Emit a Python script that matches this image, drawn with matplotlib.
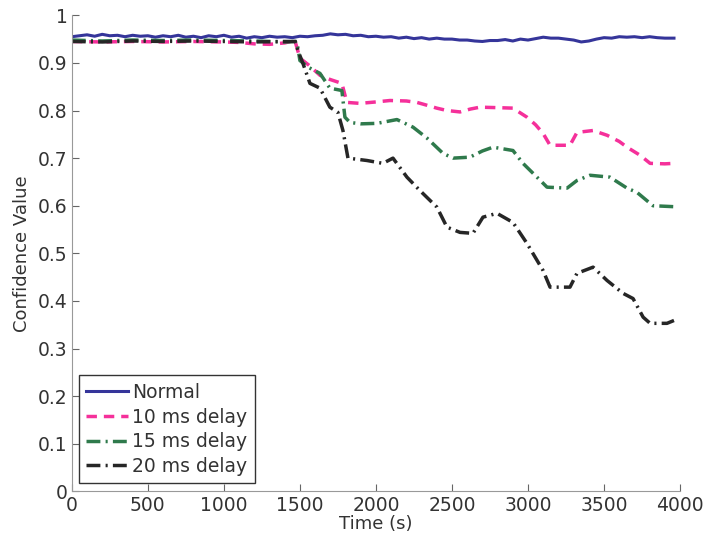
import numpy as np
import matplotlib
matplotlib.use("Agg")
from matplotlib import pyplot as plt

plt.rcParams['font.family'] = ['DejaVu Sans']

# Normal
t_normal = [0, 50, 100, 150, 200, 250, 300, 350, 400, 450, 500, 550, 600, 650, 700, 750,
            800, 850, 900, 950, 1000, 1050, 1100, 1150, 1200, 1250, 1300, 1350, 1400, 1450,
            1500, 1550, 1600, 1650, 1700, 1750, 1800, 1850, 1900, 1950, 2000, 2050, 2100,
            2150, 2200, 2250, 2300, 2350, 2400, 2450, 2500, 2550, 2600, 2650, 2700, 2750,
            2800, 2850, 2900, 2950, 3000, 3050, 3100, 3150, 3200, 3250, 3300, 3350, 3400,
            3450, 3500, 3550, 3600, 3650, 3700, 3750, 3800, 3850, 3900, 3960]
v_normal = [0.955, 0.957, 0.959, 0.956, 0.960, 0.957, 0.958, 0.955, 0.958, 0.956, 0.957, 0.954,
            0.957, 0.955, 0.958, 0.954, 0.956, 0.953, 0.957, 0.955, 0.958, 0.954, 0.956, 0.952,
            0.955, 0.953, 0.956, 0.954, 0.955, 0.953, 0.956, 0.955, 0.957, 0.958, 0.961, 0.959,
            0.960, 0.957, 0.958, 0.955, 0.956, 0.954, 0.955, 0.952, 0.954, 0.951, 0.953, 0.950,
            0.952, 0.950, 0.950, 0.948, 0.948, 0.946, 0.945, 0.947, 0.947, 0.949, 0.946, 0.950,
            0.948, 0.951, 0.954, 0.952, 0.952, 0.950, 0.948, 0.944, 0.946, 0.950, 0.953, 0.952,
            0.955, 0.954, 0.955, 0.953, 0.955, 0.953, 0.952, 0.952]

# 10 ms delay
t_10 = [0, 200, 400, 600, 800, 1000, 1100, 1200, 1300, 1400, 1467, 1500, 1560, 1632, 1700,
        1776, 1809, 1895, 2000, 2092, 2200, 2270, 2336, 2400, 2467, 2553, 2620, 2684, 2800,
        2901, 2993, 3050, 3099, 3145, 3276, 3322, 3428, 3520, 3600, 3651, 3737, 3803, 3900, 3960]
v_10 = [0.945, 0.944, 0.945, 0.944, 0.945, 0.944, 0.943, 0.940, 0.939, 0.942, 0.947, 0.910,
        0.895, 0.874, 0.865, 0.857, 0.817, 0.815, 0.818, 0.821, 0.820, 0.817, 0.811, 0.805,
        0.800, 0.797, 0.803, 0.807, 0.806, 0.805, 0.786, 0.770, 0.752, 0.727, 0.727, 0.754,
        0.758, 0.748, 0.735, 0.723, 0.706, 0.689, 0.688, 0.689]

# 15 ms delay
t_15 = [0, 200, 400, 600, 800, 1000, 1200, 1400, 1480, 1500, 1560, 1632, 1697, 1776, 1796,
        1829, 1900, 2007, 2138, 2244, 2336, 2441, 2507, 2618, 2700, 2770, 2901, 2967, 3059,
        3125, 3257, 3322, 3408, 3539, 3651, 3717, 3822, 3960]
v_15 = [0.948, 0.946, 0.948, 0.947, 0.948, 0.947, 0.946, 0.944, 0.945, 0.905, 0.890, 0.878,
        0.847, 0.842, 0.786, 0.775, 0.772, 0.773, 0.781, 0.765, 0.742, 0.710, 0.700, 0.702,
        0.715, 0.723, 0.716, 0.689, 0.660, 0.639, 0.637, 0.653, 0.664, 0.660, 0.637, 0.628,
        0.600, 0.598]

# 20 ms delay
t_20 = [0, 200, 400, 600, 800, 1000, 1200, 1400, 1470, 1487, 1520, 1566, 1632, 1697, 1750,
        1783, 1816, 1941, 2046, 2112, 2204, 2289, 2401, 2467, 2553, 2638, 2704, 2796, 2901,
        2993, 3099, 3145, 3276, 3322, 3428, 3520, 3625, 3691, 3757, 3803, 3914, 3960]
v_20 = [0.945, 0.944, 0.946, 0.945, 0.946, 0.945, 0.944, 0.945, 0.945, 0.926, 0.899, 0.857,
        0.847, 0.807, 0.796, 0.758, 0.700, 0.695, 0.689, 0.700, 0.660, 0.632, 0.597, 0.555,
        0.544, 0.542, 0.576, 0.584, 0.565, 0.521, 0.464, 0.429, 0.429, 0.458, 0.471, 0.443,
        0.416, 0.405, 0.366, 0.353, 0.353, 0.359]

fig = plt.figure(figsize=(7.04, 5.46), dpi=100)
ax = fig.add_axes([0.102, 0.100, 0.864, 0.872])

ax.plot(t_normal, v_normal, color='#35359a', lw=2.2, label='Normal')
ax.plot(t_10, v_10, color='#f5309a', lw=2.5, ls=(0, (3, 2)), label='10 ms delay')
ax.plot(t_15, v_15, color='#2f7a4c', lw=2.5, ls=(0, (4, 1.5, 0.6, 1.5)), label='15 ms delay')
ax.plot(t_20, v_20, color='#262626', lw=2.5, ls=(0, (4, 1.5, 0.6, 1.5)), label='20 ms delay')

ax.set_xlim(0, 4000)
ax.set_ylim(0, 1)
ax.set_xticks(np.arange(0, 4001, 500))
ax.set_yticks(np.arange(0, 1.01, 0.1))
ax.set_yticklabels(['0', '0.1', '0.2', '0.3', '0.4', '0.5', '0.6', '0.7', '0.8', '0.9', '1'])
ax.tick_params(direction='in', length=5, labelsize=13.5, colors='#666666', labelcolor='#333333',
               pad=3)
ax.spines['top'].set_visible(False)
ax.spines['right'].set_visible(False)
ax.spines['left'].set_color('#999999')
ax.spines['bottom'].set_color('#999999')
ax.set_xlabel('Time (s)', fontsize=13, color='#333333', labelpad=0)
ax.set_ylabel('Confidence Value', fontsize=13, color='#333333', labelpad=5)

leg = ax.legend(loc='lower left', fontsize=13.5, fancybox=False, borderpad=0.4,
                handlelength=2.2, handletextpad=0.25, labelspacing=0.3,
                borderaxespad=0, bbox_to_anchor=(0.0115, 0.017))
leg.get_frame().set_edgecolor('#333333')
leg.get_frame().set_linewidth(1.0)
leg.get_frame().set_alpha(1)
for txt in leg.get_texts():
    txt.set_color('#333333')

plt.savefig('out.png', dpi=100)
